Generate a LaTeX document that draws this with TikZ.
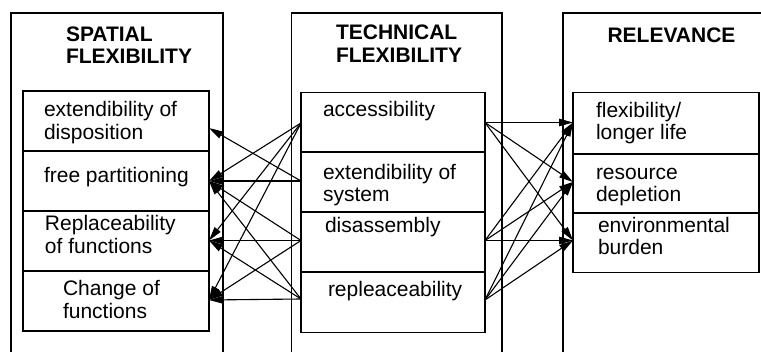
\documentclass[tikz,border=0pt]{standalone}
\usepackage{fontspec}
\setmainfont{Liberation Sans}
\usetikzlibrary{arrows.meta}
\begin{document}
\begin{tikzpicture}[x=1pt,y=-1pt,
  outer/.style={line width=1.4pt},
  ibox/.style={draw,line width=1.4pt,anchor=north west,inner sep=0pt,outer sep=0pt},
  txt/.style={anchor=base west,inner sep=0pt,outer sep=0pt,font=\fontsize{21}{22}\selectfont},
  head/.style={anchor=base west,inner sep=0pt,outer sep=0pt,font=\fontsize{21}{22}\selectfont\bfseries},
  conn/.style={line width=1.1pt,-{Triangle[length=14pt,width=7.5pt]}}]
\useasboundingbox (0,0) rectangle (761,352);
% outer columns (open at the bottom)
\draw[outer] (11,365) -- (11,13) -- (223,13) -- (223,365);
\draw[outer] (291.5,365) -- (291.5,13) -- (502,13) -- (502,365);
\draw[outer] (563,365) -- (563,13) -- (775,13);
% headings
\node[head] (h1a) at (66,41.5) {SPATIAL};
\node[head] (h1b) at (66,64) {FLEXIBILITY};
\node[head] (h2a) at (336,40) {TECHNICAL};
\node[head] (h2b) at (336,63) {FLEXIBILITY};
\node[head] (h3a) at (607.5,43) {RELEVANCE};
% left inner boxes
\node[ibox,minimum width=186pt,minimum height=60.5pt] (l1) at (23,91) {};
\node[ibox,minimum width=186pt,minimum height=61pt] (l2) at (23,150.5) {};
\node[ibox,minimum width=186pt,minimum height=61pt] (l3) at (23,210.5) {};
\node[ibox,minimum width=186pt,minimum height=60.5pt] (l4) at (23,270.5) {};
% middle inner boxes
\node[ibox,minimum width=184pt,minimum height=60pt] (m1) at (301,92.7) {};
\node[ibox,minimum width=184pt,minimum height=61pt] (m2) at (301,151.3) {};
\node[ibox,minimum width=184pt,minimum height=61pt] (m3) at (301,211.3) {};
\node[ibox,minimum width=184pt,minimum height=61pt] (m4) at (301,271.3) {};
% right inner boxes
\node[ibox,minimum width=186pt,minimum height=62pt] (r1) at (573,92.7) {};
\node[ibox,minimum width=186pt,minimum height=60pt] (r2) at (573,153.8) {};
\node[ibox,minimum width=186pt,minimum height=60pt] (r3) at (573,212.8) {};
% texts left
\node[txt] (t1a) at (44,117) {extendibility of};
\node[txt] (t1b) at (44,139.5) {disposition};
\node[txt] (t2a) at (44,182.7) {free partitioning};
\node[txt] (t3a) at (45,231) {Replaceability};
\node[txt] (t3b) at (45,253.5) {of functions};
\node[txt] (t4a) at (63,296) {Change of};
\node[txt] (t4b) at (63,319) {functions};
% texts middle
\node[txt] (u1a) at (323,117) {accessibility};
\node[txt] (u2a) at (323,180) {extendibility of};
\node[txt] (u2b) at (323,202) {system};
\node[txt] (u3a) at (325,233) {disassembly};
\node[txt] (u4a) at (328,297) {repleaceability};
% texts right
\node[txt] (v1a) at (596,118) {flexibility/};
\node[txt] (v1b) at (596,140) {longer life};
\node[txt] (v2a) at (596,180) {resource};
\node[txt] (v2b) at (596,202) {depletion};
\node[txt] (v3a) at (598,233) {environmental};
\node[txt] (v3b) at (598,255) {burden};
% connection points
\coordinate (S1) at (301,123);
\coordinate (S2) at (301,181);
\coordinate (S3) at (301,240.5);
\coordinate (S4) at (301,299);
\coordinate (T1) at (209,128);
\coordinate (T2) at (209,181);
\coordinate (T3) at (209,240.5);
\coordinate (T4) at (209,300);
\coordinate (R1) at (485,122.5);
\coordinate (R3) at (485,240.5);
\coordinate (R4) at (485,300);
\coordinate (U1) at (573,122.5);
\coordinate (U2) at (573,182);
\coordinate (U3) at (573,240.5);
% left connectors
\draw[conn] (S1) -- (T2);
\draw[conn] (S1) -- (T3);
\draw[conn] (S1) -- (T4);
\draw[conn] (S2) -- (T1);
\draw[conn] (S2) -- (T2);
\draw[conn] (S3) -- (T2);
\draw[conn] (S3) -- (T3);
\draw[conn] (S3) -- (T4);
\draw[conn] (S4) -- (T2);
\draw[conn] (S4) -- (T3);
\draw[conn] (S4) -- (T4);
% right connectors
\draw[conn] (R1) -- (U1);
\draw[conn] (R1) -- (U2);
\draw[conn] (R1) -- (U3);
\draw[conn] (R3) -- (U1);
\draw[conn] (R3) -- (U2);
\draw[conn] (R3) -- (U3);
\draw[conn] (R4) -- (U1);
\draw[conn] (R4) -- (U2);
\draw[conn] (R4) -- (U3);
\end{tikzpicture}
\end{document}
